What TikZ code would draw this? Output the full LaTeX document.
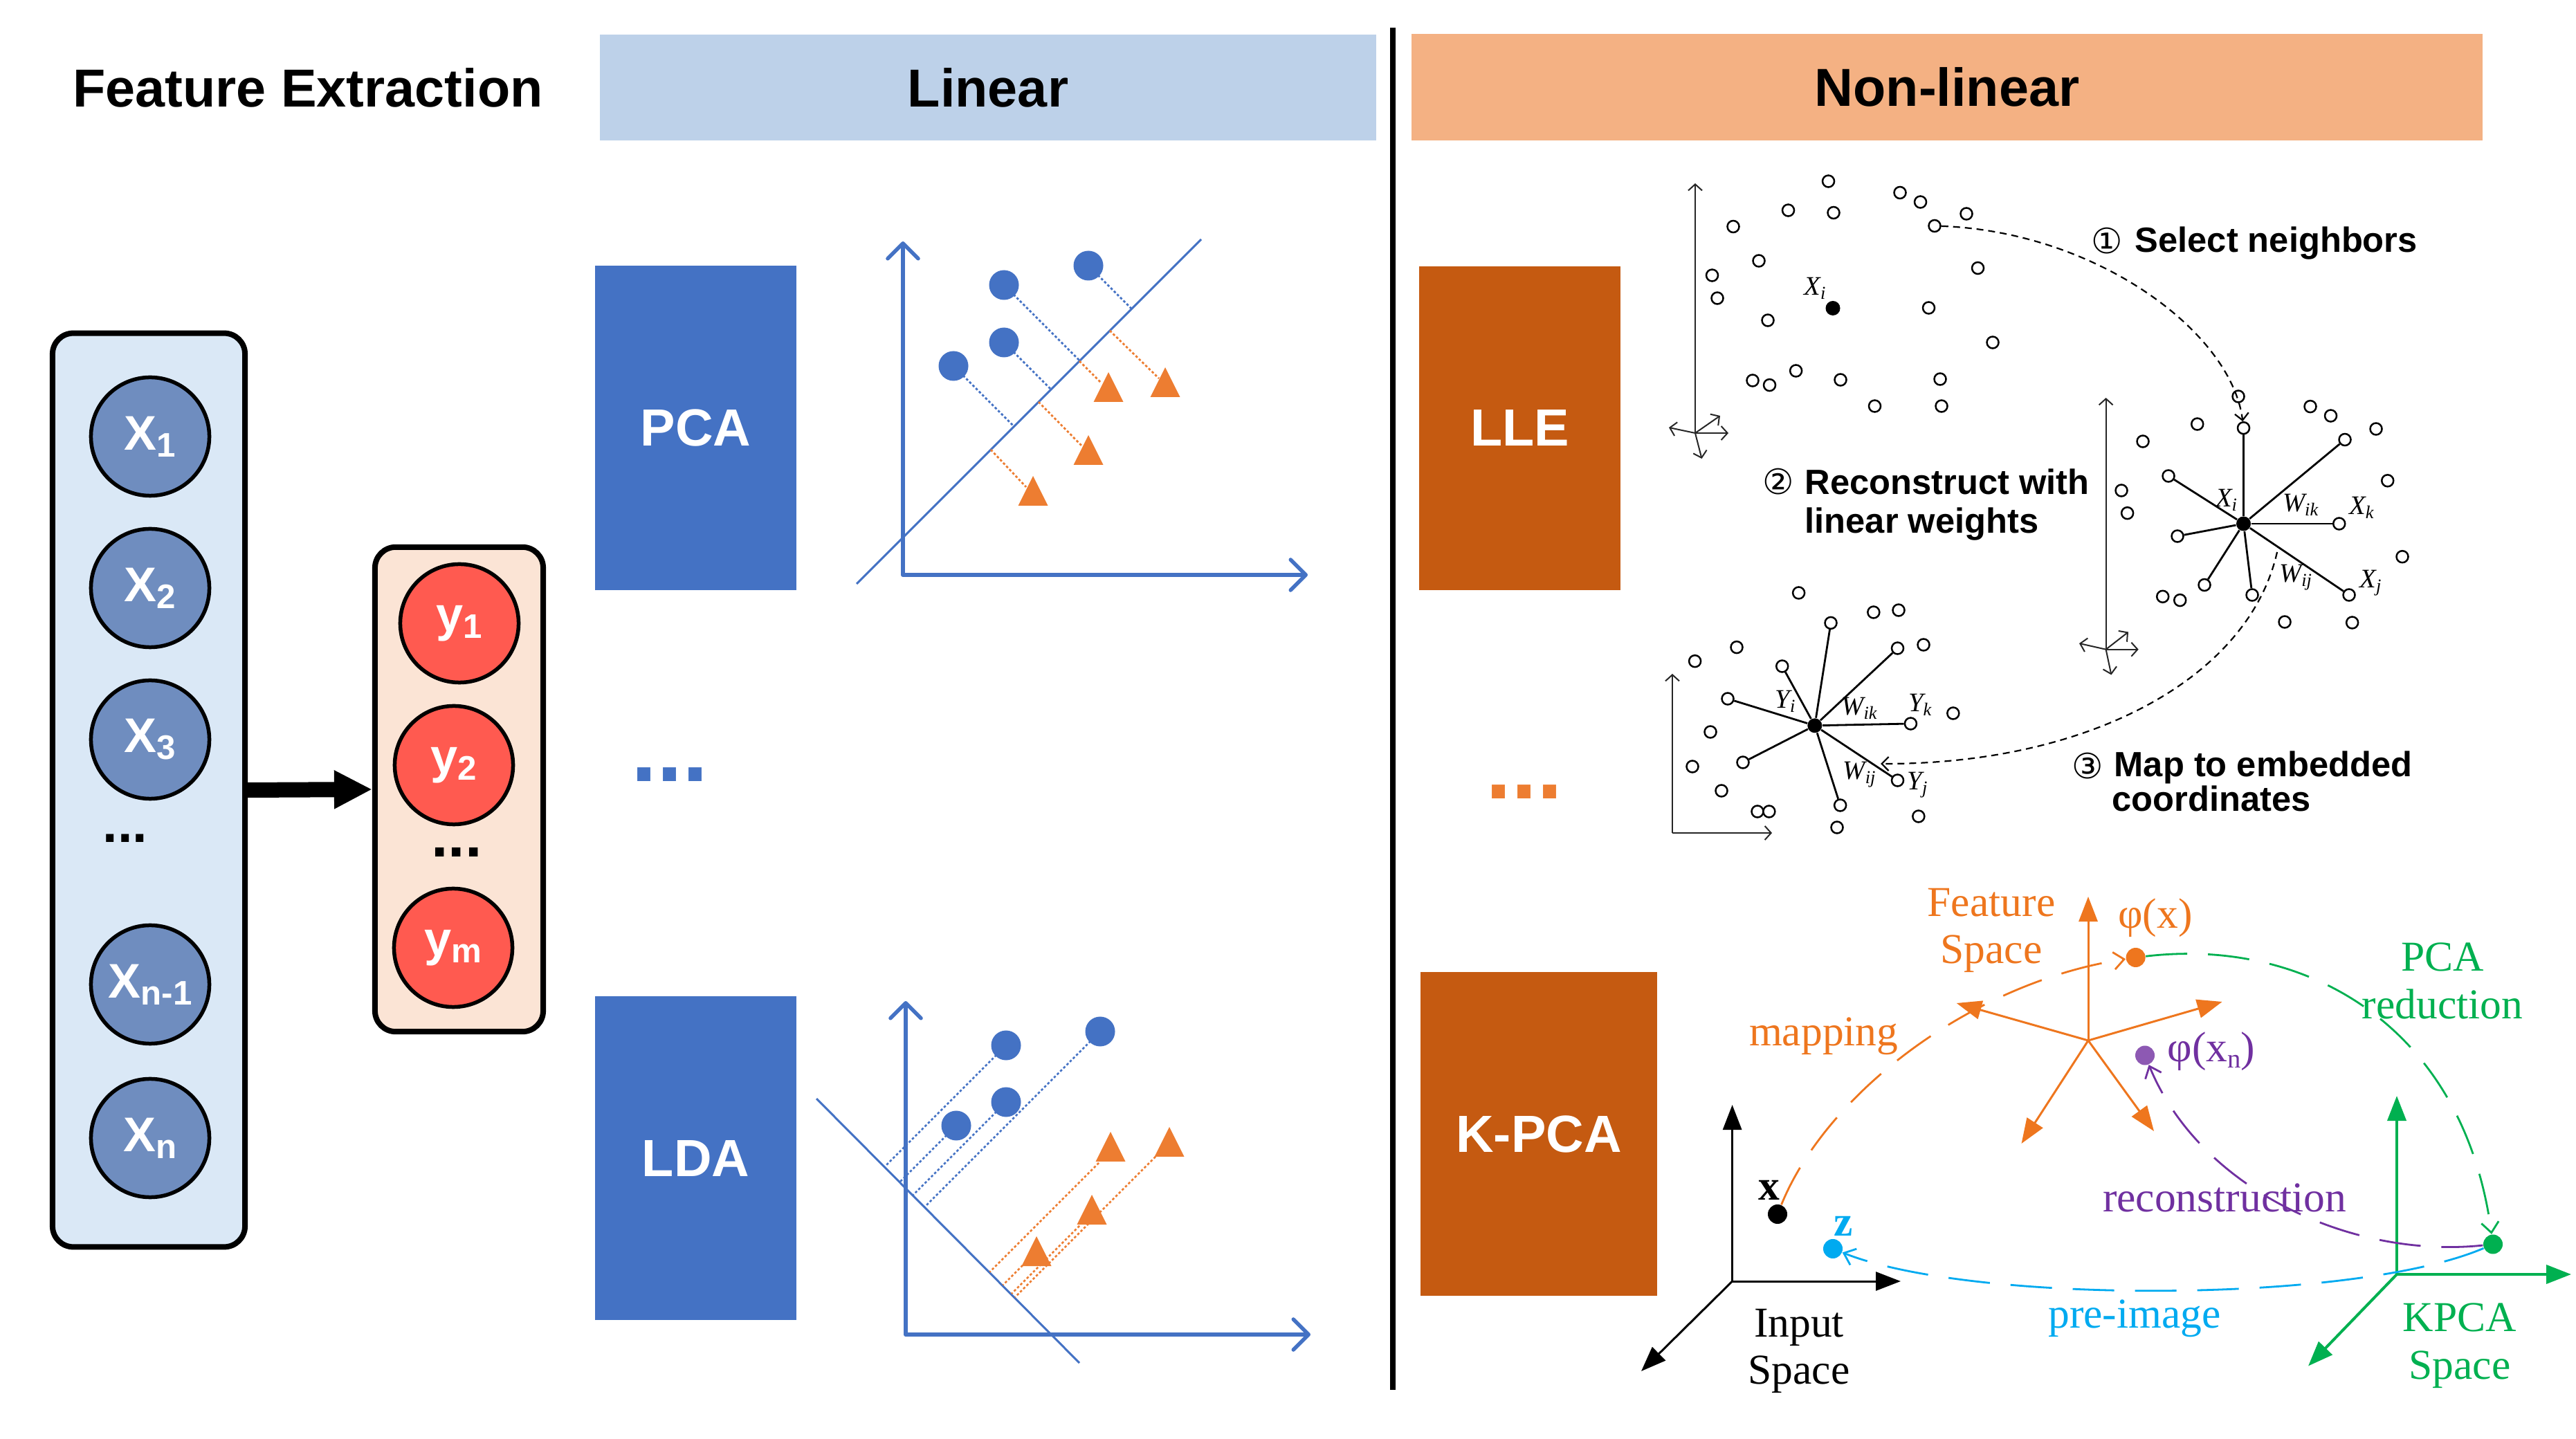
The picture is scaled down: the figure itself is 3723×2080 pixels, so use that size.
\documentclass[tikz,border=0pt]{standalone}
\usepackage{fontspec}
\setmainfont{Liberation Serif}
\newfontfamily\arial{Liberation Sans}
\newfontfamily\dvs{DejaVu Sans}
\usetikzlibrary{arrows.meta,shapes.geometric}
\definecolor{hblue}{RGB}{189,209,233}
\definecolor{horange}{RGB}{244,177,131}
\definecolor{xbfill}{RGB}{218,232,246}
\definecolor{xcfill}{RGB}{111,141,191}
\definecolor{ybfill}{RGB}{251,228,213}
\definecolor{ycfill}{RGB}{255,90,80}
\definecolor{pblue}{RGB}{68,114,196}
\definecolor{porange}{RGB}{237,125,49}
\definecolor{lorange}{RGB}{197,90,17}
\definecolor{korange}{RGB}{238,118,30}
\definecolor{kgreen}{RGB}{0,176,80}
\definecolor{kcyan}{RGB}{0,170,240}
\definecolor{kpurple}{RGB}{112,48,160}
\newcommand\bsub[2]{#1\raisebox{-0.14em}{\fontsize{14}{14}\selectfont #2}}
\newcommand\lsub[2]{#1\raisebox{-0.35ex}{\fontsize{7.5}{7.5}\selectfont #2}}
\newcommand\tri[2]{\fill[porange] (#1,#2) -- ++(-21.5,43) -- ++(43,0) -- cycle;}
\tikzset{
  hdr/.style={inner sep=0, font=\arial\bfseries\fontsize{22}{26}\selectfont},
  colbox/.style={rectangle, draw=black, line width=0.08cm, rounded corners=0.3cm, inner sep=0},
  xcirc/.style={circle, draw=black, line width=0.055cm, fill=xcfill, minimum size=1.71cm, inner sep=0, text=white, font=\arial\bfseries\fontsize{20}{20}\selectfont},
  ycirc/.style={xcirc, fill=ycfill},
  dotstext/.style={inner sep=0, font=\arial\bfseries\fontsize{22}{22}\selectfont},
  method/.style={rectangle, inner sep=0, minimum width=2.91cm, minimum height=4.68cm, text=white, font=\arial\bfseries\fontsize{21.5}{24}\selectfont},
  paxis/.style={draw=pblue, line width=0.055cm, line cap=round, -{Straight Barb[length=0.22cm,width=0.44cm,round]}},
  pline/.style={draw=pblue, line width=0.03cm},
  pbdash/.style={draw=pblue, line width=0.028cm, dash pattern=on 0.035cm off 0.03cm},
  podash/.style={draw=porange, line width=0.028cm, dash pattern=on 0.035cm off 0.03cm},
  pdot/.style={circle, fill=pblue, minimum size=0.43cm, inner sep=0},
  oc/.style={circle, draw=black, line width=0.025cm, fill=white, minimum size=0.17cm, inner sep=0},
  fc/.style={circle, fill=black, minimum size=0.21cm, inner sep=0},
  lleaxis/.style={draw=black!85, line width=0.02cm, -{Straight Barb[length=0.09cm,width=0.2cm]}},
  star/.style={draw=black, line width=0.028cm},
  lledash/.style={draw=black, line width=0.022cm, dash pattern=on 0.1cm off 0.07cm, -{Straight Barb[length=0.1cm,width=0.2cm]}},
  itl/.style={inner sep=0, font=\fontsize{11}{11}\selectfont\itshape},
  lletext/.style={anchor=base west, inner sep=0, font=\arial\bfseries\fontsize{14.4}{17}\selectfont},
  cnum/.style={inner sep=0, font=\dvs\fontsize{14.4}{17}\selectfont},
  kaxis/.style={line width=0.03cm, -{Triangle[length=0.36cm,width=0.27cm]}},
  kdot/.style={circle, minimum size=0.28cm, inner sep=0},
  kdash/.style={line width=0.028cm, dash pattern=on 0.6cm off 0.3cm, -{Straight Barb[length=0.15cm,width=0.25cm]}},
  klab/.style={inner sep=0, align=center, font=\fontsize{17.5}{19.5}\selectfont},
}
\begin{document}
\begin{tikzpicture}[x=0.01cm,y=-0.01cm]
\useasboundingbox (0,0) rectangle (3723,2080);

% ---------- headers ----------
\node[hdr] (fe) at (445,127) {Feature Extraction};
\node[hdr, rectangle, fill=hblue, minimum width=11.22cm, minimum height=1.53cm] (lin) at (1428,126.5) {Linear};
\node[hdr, rectangle, fill=horange, minimum width=15.48cm, minimum height=1.54cm] (nonlin) at (2814,126) {Non-linear};
\coordinate (divtop) at (2013,40);
\coordinate (divbot) at (2013,2009);
\draw[line width=0.08cm] (divtop) -- (divbot);

% ---------- feature extraction ----------
\node[colbox, fill=xbfill, minimum width=2.78cm, minimum height=13.20cm] (xbox) at (215,1142) {};
\node[xcirc] (x1) at (217,631) {\bsub{X}{1}};
\node[xcirc] (x2) at (217,850) {\bsub{X}{2}};
\node[xcirc] (x3) at (217,1069) {\bsub{X}{3}};
\node[dotstext] (xdots) at (181,1212) {...};
\node[xcirc] (xn1) at (217,1423) {\bsub{X}{n-1}};
\node[xcirc] (xn) at (217,1645) {\bsub{X}{n}};

\node[colbox, fill=ybfill, minimum width=2.43cm, minimum height=7.0cm] (ybox) at (663.5,1141) {};
\node[ycirc] (y1) at (664,901) {\bsub{y}{1}};
\node[ycirc] (y2) at (656,1106) {\bsub{y}{2}};
\node[dotstext, font=\arial\bfseries\fontsize{25}{25}\selectfont] (ydots) at (660,1232) {...};
\node[ycirc] (ym) at (655,1370) {\bsub{y}{m}};

\draw[line width=0.22cm, -{Triangle[length=0.55cm,width=0.52cm]}] (xbox.east) -- (ybox.west);

% ---------- method boxes ----------
\node[method, fill=pblue] (pca) at (1005.5,618.5) {PCA};
\node[method, fill=pblue] (lda) at (1005.5,1674) {LDA};
\node[method, fill=lorange] (lle) at (2196.5,619) {LLE};
\node[method, fill=lorange, minimum width=3.42cm] (kpca) at (2224,1639) {K-PCA};
\node[dotstext, text=pblue, font=\arial\bfseries\fontsize{38}{38}\selectfont] (bdots) at (968,1120) {...};
\node[dotstext, text=porange, font=\arial\bfseries\fontsize{38}{38}\selectfont] (odots) at (2203,1145) {...};

% ---------- PCA plot ----------
\coordinate (pO) at (1305,831);
\coordinate (pY) at (1305,349);
\coordinate (pX) at (1890,831);
\draw[paxis] (pO) -- (pY);
\draw[paxis] (pO) -- (pX);
\coordinate (pl1) at (1238,844);
\coordinate (pl2) at (1736,346);
\draw[pline] (pl1) -- (pl2);
\draw[pbdash] (1573,384) -- (1635.5,446.5);
\draw[pbdash] (1451,412) -- (1560.5,521.5);
\draw[pbdash] (1451,495) -- (1519,563);
\draw[pbdash] (1378,529) -- (1465.5,616.5);
\draw[podash] (1604,478) -- (1675,547);
\draw[podash] (1560,522) -- (1592,554);
\draw[podash] (1501,581) -- (1564,645);
\draw[podash] (1432,650) -- (1483,704);
\node[pdot] (pd1) at (1573,384) {};
\node[pdot] (pd2) at (1451,412) {};
\node[pdot] (pd3) at (1451,495) {};
\node[pdot] (pd4) at (1378,529) {};
\tri{1602}{538}
\tri{1684}{531}
\tri{1573}{629}
\tri{1493}{688}

% ---------- LDA plot ----------
\coordinate (lO) at (1309,1929);
\coordinate (lY) at (1309,1447);
\coordinate (lX) at (1894,1929);
\draw[paxis] (lO) -- (lY);
\draw[paxis] (lO) -- (lX);
\coordinate (ll1) at (1180,1588);
\coordinate (ll2) at (1560,1970);
\draw[pline] (ll1) -- (ll2);
\draw[pbdash] (1454,1511) -- (1278.5,1686.5);
\draw[pbdash] (1590,1491) -- (1336.5,1744.5);
\draw[pbdash] (1454,1593) -- (1319.5,1727.5);
\draw[pbdash] (1382,1627) -- (1300.5,1708.5);
\draw[podash] (1588,1681) -- (1430.5,1838.5);
\draw[podash] (1670,1672) -- (1467,1875);
\draw[podash] (1560,1772) -- (1462,1870);
\draw[podash] (1478,1829) -- (1449.5,1857.5);
\node[pdot] (ld1) at (1454,1511) {};
\node[pdot] (ld2) at (1590,1491) {};
\node[pdot] (ld3) at (1454,1593) {};
\node[pdot] (ld4) at (1382,1627) {};
\tri{1605}{1636}
\tri{1690}{1629}
\tri{1578}{1727}
\tri{1498}{1787}

% ---------- LLE: top scatter ----------
\coordinate (ta0) at (2450,626);
\draw[lleaxis] (ta0) -- (2450,265);
\draw[lleaxis] (ta0) -- (2412,618);
\draw[lleaxis] (ta0) -- (2498,626);
\draw[lleaxis] (ta0) -- (2459.5,663);
\draw[lleaxis] (ta0) -- (2486,601);
\foreach \x/\y [count=\i] in {2642.5/262, 2584.5/304, 2650/307.5, 2746/278.5, 2775.5/292, 2842/309, 2796/326.5, 2505/327.5, 2542/377, 2474.5/398, 2482/431, 2555/463, 2858.5/387.5, 2787.5/445, 2880/495, 2533/550, 2557.5/556.6, 2595.6/536, 2660/549, 2804/548, 2709.5/587, 2806/587}
  \node[oc] (t\i) at (\x,\y) {};
\node[fc] (tc) at (2649,445.5) {};
\node[itl] (tcl) at (2623,416.5) {\lsub{X}{i}};

% ---------- LLE: right star ----------
\coordinate (ra0) at (3043.6,938.7);
\draw[lleaxis] (ra0) -- (3043.6,575);
\draw[lleaxis] (ra0) -- (3005,930);
\draw[lleaxis] (ra0) -- (3090.7,938.7);
\draw[lleaxis] (ra0) -- (3051.4,975.5);
\draw[lleaxis] (ra0) -- (3076,913.5);
\foreach \x/\y [count=\i] in {3235/573, 3175.7/613, 3097/638, 3339/587.6, 3368.5/601, 3434/620, 3450.7/694.8, 3472/804.7, 3066/709, 3074.6/741.7, 3125.7/862.3, 3150.7/867.6, 3302/899, 3399.6/900}
  \node[oc] (ro\i) at (\x,\y) {};
\node[fc] (rc) at (3242.5,757) {};
\foreach \x/\y [count=\i] in {3242.5/618.7, 3389/635.5, 3380.7/757, 3395/860, 3255/860, 3186/845.5, 3147/775, 3134/688}
  {\node[oc] (rn\i) at (\x,\y) {}; \draw[star] (rc) -- (rn\i);}
\node[itl] (rxi) at (3217.5,722.6) {\lsub{X}{i}};
\node[itl] (rwik) at (3324.6,730) {\lsub{W}{ik}};
\node[itl] (rxk) at (3413,733.6) {\lsub{X}{k}};
\node[itl] (rwij) at (3317.5,834.8) {\lsub{W}{ij}};
\node[itl] (rxj) at (3426,843) {\lsub{X}{j}};

% ---------- LLE: bottom-left star ----------
\coordinate (ba0) at (2417,1204);
\draw[lleaxis] (ba0) -- (2417,974);
\draw[lleaxis] (ba0) -- (2561,1204);
\foreach \x/\y [count=\i] in {2599.6/857, 2707.8/885, 2744/882, 2780/932, 2822.8/1031, 2510/935.6, 2449.6/955.7, 2472/1058, 2446/1108, 2488/1143, 2540/1173, 2556.8/1173, 2655/1196, 2772.8/1180}
  \node[oc] (bo\i) at (\x,\y) {};
\node[fc] (bc) at (2622.8,1048.8) {};
\foreach \x/\y [count=\i] in {2646/900.4, 2742.5/937, 2761.4/1046, 2742.5/1128, 2659.6/1164, 2519/1102, 2497/1010, 2575.7/963}
  {\node[oc] (bn\i) at (\x,\y) {}; \draw[star] (bc) -- (bn\i);}
\node[itl] (byi) at (2580,1014) {\lsub{Y}{i}};
\node[itl] (bwik) at (2687,1024) {\lsub{W}{ik}};
\node[itl] (byk) at (2774.6,1019) {\lsub{Y}{k}};
\node[itl] (bwij) at (2687,1120) {\lsub{W}{ij}};
\node[itl] (byj) at (2771,1135) {\lsub{Y}{j}};

% ---------- LLE arcs and steps ----------
\draw[lledash] (t7) .. controls (3030,335) and (3225,480) .. (rn1);
\coordinate (a3s) at (3291,798);
\coordinate (a3e) at (2718,1104);
\draw[lledash] (a3s) .. controls (3250,980) and (3020,1105) .. (a3e);
\node[cnum] (n1) at (3045,348) {①};
\node[lletext] (s1) at (3085,365) {Select neighbors};
\node[cnum] (n2) at (2569.7,696) {②};
\node[lletext] (s2a) at (2608,715) {Reconstruct with};
\node[lletext] (s2b) at (2608,771) {linear weights};
\node[cnum] (n3) at (3017,1107) {③};
\node[lletext] (s3a) at (3055,1123) {Map to embedded};
\node[lletext] (s3b) at (3052,1173) {coordinates};

% ---------- K-PCA ----------
\coordinate (fo) at (3018,1504);
\draw[kaxis, korange] (fo) -- (3018,1296);
\draw[kaxis, korange] (fo) -- (2827.7,1450);
\draw[kaxis, korange] (fo) -- (3211.6,1448);
\draw[kaxis, korange] (fo) -- (2921.5,1653);
\draw[kaxis, korange] (fo) -- (3113,1635);
\coordinate (io) at (2503.6,1852);
\draw[kaxis, black] (io) -- (2503.6,1597);
\draw[kaxis, black] (io) -- (2747,1852);
\draw[kaxis, black] (io) -- (2372,1982);
\coordinate (ko) at (3464,1842);
\draw[kaxis, kgreen, line width=0.04cm] (ko) -- (3464,1584);
\draw[kaxis, kgreen, line width=0.04cm] (ko) -- (3716,1842);
\draw[kaxis, kgreen, line width=0.04cm] (ko) -- (3336,1974.5);

\node[kdot, fill=black] (px) at (2569,1755) {};
\node[kdot, fill=kcyan] (pz) at (2649,1805) {};
\node[kdot, fill=korange] (pphi) at (3086.6,1384) {};
\node[kdot, fill=kpurple!80] (pphin) at (3100,1525.5) {};
\node[kdot, fill=kgreen] (pg) at (3603,1798.5) {};

\draw[kdash, korange] (px) .. controls (2640,1580) and (2850,1420) .. (pphi);
\draw[kdash, kgreen] (pphi) .. controls (3330,1355) and (3560,1480) .. (pg);
\draw[kdash, kpurple] (pg) .. controls (3400,1820) and (3180,1720) .. (pphin);
\draw[kdash, kcyan] (pg) .. controls (3400,1885) and (2850,1885) .. (pz);

\node[klab, text=korange] (fsl) at (2878,1345) {Feature\\Space};
\node[klab, text=korange] (phil) at (3115,1327) {φ(x)};
\node[klab, text=korange] (mapl) at (2635.7,1497.5) {mapping};
\node[klab, font=\fontsize{17.5}{19.5}\selectfont\bfseries] (xl) at (2557,1720) {x};
\node[klab] (inl) at (2600,1953) {Input\\Space};
\node[klab, text=kcyan, font=\fontsize{17.5}{19.5}\selectfont\bfseries] (zl) at (2664,1772) {z};
\node[klab, text=kcyan] (prel) at (3085,1905.6) {pre-image};
\node[klab, text=kgreen] (kpl) at (3555,1945) {KPCA\\Space};
\node[klab, text=kgreen] (pcal) at (3530,1418) {PCA\\reduction};
\node[klab, text=kpurple] (phinl) at (3196,1520) {φ(x\raisebox{-0.3ex}{\fontsize{11}{11}\selectfont n})};
\node[klab, text=kpurple] (recl) at (3215,1731) {reconstruction};
\end{tikzpicture}
\end{document}
